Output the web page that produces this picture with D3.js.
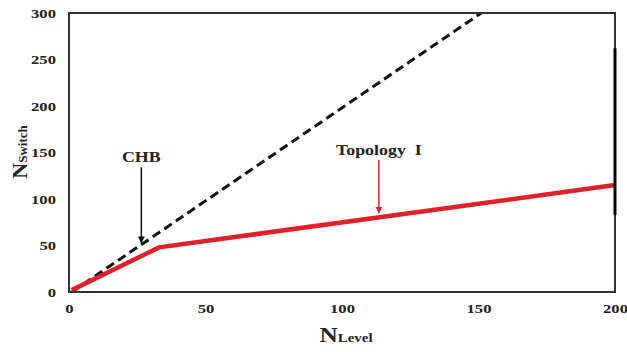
<!DOCTYPE html>
<html><head><meta charset="utf-8">
<script src="https://cdn.jsdelivr.net/npm/d3@7"></script>
<style>body{margin:0;background:#fff}svg text{font-family:"Liberation Serif","Times New Roman",serif !important;font-weight:bold;fill:#222}</style>
</head><body>
<svg id="c" width="627" height="352"></svg>
<script>
const xTicks = [0, 50, 100, 150, 200];
const yTicks = [0, 50, 100, 150, 200, 250, 300];
const chbX = [1, 151];
const chbY = [0, 300];
const topoX = [1, 33, 200];
const topoY = [2, 48, 115];
const annotations = [
  {label: "CHB", x: 26.5, yFrom: 134, yTo: 53, color: "#111"},
  {label: "Topology  I", x: 113.5, yFrom: 142, yTo: 85, color: "#e0202a"}
];

const svg = d3.select("#c");
const m = {l: 69, r: 615, t: 13, b: 292};
const sx = 1.28;
const x = d3.scaleLinear().domain([0, 200]).range([m.l, m.r]);
const y = d3.scaleLinear().domain([0, 300]).range([m.b, m.t]);

svg.append("defs").selectAll("marker").data(annotations).join("marker")
  .attr("id", (d, i) => "ah" + i).attr("viewBox", "0 0 10 10").attr("refX", 9).attr("refY", 5)
  .attr("markerWidth", 7).attr("markerHeight", 7).attr("markerUnits", "userSpaceOnUse").attr("orient", "auto")
  .append("path").attr("d", "M0,0L10,5L0,10z").attr("fill", d => d.color);

// axes
const xa = svg.append("g").attr("transform", `translate(0,${m.b})`)
  .call(d3.axisBottom(x).tickValues(xTicks).tickSize(0).tickPadding(12));
xa.select(".domain").remove();
xa.attr("font-family", null);
xa.selectAll("text").attr("font-size", 13).attr("transform", `scale(${sx},1)`);
const ya = svg.append("g").attr("transform", `translate(${m.l},0)`)
  .call(d3.axisLeft(y).tickValues(yTicks).tickSize(0).tickPadding(13));
ya.select(".domain").remove();
ya.attr("font-family", null);
ya.selectAll("text").attr("font-size", 13).attr("x", -13 / sx).attr("transform", `scale(${sx},1)`);

// lines
const line = d3.line().x(d => x(d[0])).y(d => y(d[1]));
svg.append("path").datum(chbX.map((v, i) => [v, chbY[i]]))
  .attr("d", line).attr("fill", "none").attr("stroke", "#111").attr("stroke-width", 3).attr("stroke-dasharray", "9,5");
svg.append("path").datum(topoX.map((v, i) => [v, topoY[i]]))
  .attr("d", line).attr("fill", "none").attr("stroke", "#e0202a").attr("stroke-width", 4.5);

// frame
svg.append("rect").attr("x", m.l).attr("y", m.t).attr("width", m.r - m.l).attr("height", m.b - m.t)
  .attr("fill", "none").attr("stroke", "#333").attr("stroke-width", 2);
svg.append("line").attr("x1", x(200)).attr("x2", x(200)).attr("y1", y(262)).attr("y2", y(83))
  .attr("stroke", "#000").attr("stroke-width", 3);

// annotations
annotations.forEach((a, i) => {
  svg.append("line").attr("x1", x(a.x)).attr("x2", x(a.x)).attr("y1", y(a.yFrom)).attr("y2", y(a.yTo))
    .attr("stroke", a.color).attr("stroke-width", 1.5).attr("marker-end", `url(#ah${i})`);
  svg.append("text").attr("transform", `translate(${x(a.x)},${y(a.yFrom) - 5}) scale(${sx},1)`)
    .attr("text-anchor", "middle").attr("font-size", 14).style("white-space", "pre").text(a.label);
});

// axis titles
const xt = svg.append("text").attr("transform", `translate(346,342) scale(1.15,1)`).attr("text-anchor", "middle");
xt.append("tspan").attr("font-size", 22).text("N");
xt.append("tspan").attr("font-size", 13).text("Level");
const yt = svg.append("text").attr("transform", "translate(27,152) rotate(-90)").attr("text-anchor", "middle");
yt.append("tspan").attr("font-size", 22).text("N");
yt.append("tspan").attr("font-size", 13).text("Switch");
</script>
</body></html>
